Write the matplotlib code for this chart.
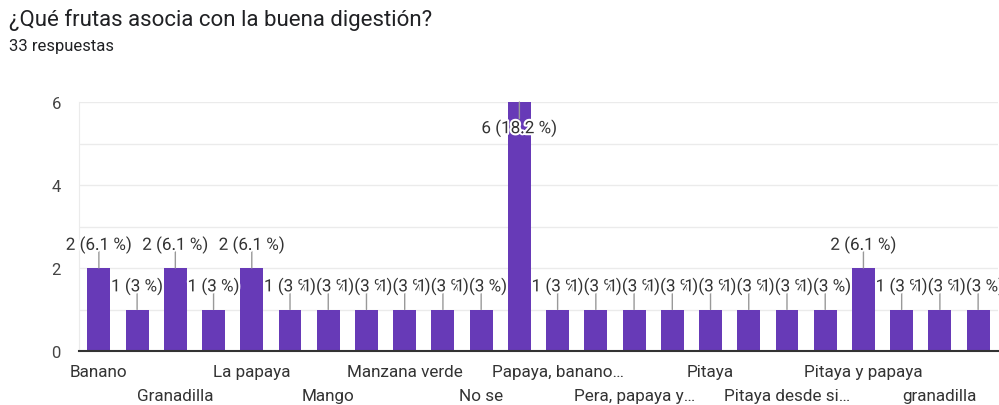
import matplotlib
matplotlib.use("Agg")
import matplotlib.pyplot as plt
import matplotlib.patheffects as pe
import matplotlib.transforms as mtransforms

# respuestas (orden alfabético como en el formulario); las impares no se ven en el eje
categories = [
    "Banano", "Banano y papaya", "Granadilla", "Guayaba", "La papaya", "Limón",
    "Mango", "Manzana", "Manzana verde", "Naranja", "No se", "Papaya",
    "Papaya, banano…", "Papaya, piña…", "Pera, papaya y…", "Piña", "Pitaya",
    "Pitaya amarilla", "Pitaya desde si…", "Pitaya roja", "Pitaya y papaya",
    "Uvas", "granadilla", "papaya",
]
counts = [2, 1, 2, 1, 2, 1, 1, 1, 1, 1, 1, 6, 1, 1, 1, 1, 1, 1, 1, 1, 2, 1, 1, 1]
total = 33
title = "¿Qué frutas asocia con la buena digestión?"
subtitle = "33 respuestas"

plt.rcParams["font.family"] = ["Roboto", "DejaVu Sans"]

fig = plt.figure(figsize=(9.99, 4.06), dpi=100)
ax = fig.add_axes([79 / 999, 1 - 352 / 406, 919 / 999, 249 / 406])

x = list(range(len(counts)))
ax.bar(x, counts, width=0.6, color="#673ab7", zorder=2)

ax.set_xlim(-0.52, len(counts) - 0.48)
ax.set_ylim(0, 6)
ax.set_yticks([0, 2, 4, 6])
ax.set_yticks([1, 3, 5], minor=True)
ax.grid(axis="y", which="both", color="#ebebeb", linewidth=1, zorder=0)
ax.tick_params(axis="y", which="both", length=0, pad=13, labelsize=12, labelcolor="#444444")
ax.set_xticks([])
for s in ["top", "right"]:
    ax.spines[s].set_visible(False)
ax.spines["left"].set_color("#ebebeb")
ax.spines["bottom"].set_color("#333333")
ax.spines["bottom"].set_linewidth(1.5)
ax.spines["bottom"].set_zorder(3)

# etiquetas del eje x en dos filas alternadas
trans = mtransforms.blended_transform_factory(ax.transData, ax.transAxes)
for i in range(0, len(categories), 2):
    row = (i // 2) % 2
    off = -15 if row == 0 else -32
    ax.annotate(categories[i], xy=(i, 0), xycoords=trans, xytext=(0, off),
                textcoords="offset points", ha="center", va="center",
                fontsize=12.3, color="#333333")

# etiquetas de datos con línea guía
halo = [pe.withStroke(linewidth=3, foreground="white")]
ymax = max(counts)
for i, v in enumerate(counts):
    pct = 100 * v / total
    pct_s = f"{pct:.1f}".rstrip("0").rstrip(".")
    label = f"{v} ({pct_s} %)"
    if v == ymax:
        ax.annotate("", xy=(i, v), xytext=(0, -12), textcoords="offset points",
                    arrowprops=dict(arrowstyle="-", color="#999999", lw=1,
                                    shrinkA=0, shrinkB=0), zorder=4)
        ax.annotate(label, xy=(i, v), xytext=(0, -19), textcoords="offset points",
                    ha="center", va="center", fontsize=12.3, color="#333333",
                    path_effects=halo, zorder=5)
    else:
        ax.annotate("", xy=(i, v), xytext=(0, 12), textcoords="offset points",
                    arrowprops=dict(arrowstyle="-", color="#999999", lw=1,
                                    shrinkA=0, shrinkB=0), zorder=4)
        ax.annotate(label, xy=(i, v), xytext=(0, 16.5), textcoords="offset points",
                    ha="center", va="center", fontsize=12.3, color="#333333",
                    path_effects=halo, zorder=5)

fig.text(9 / 999, 1 - 20 / 406, title, ha="left", va="center", fontsize=16, color="#202124")
fig.text(9 / 999, 1 - 47 / 406, subtitle, ha="left", va="center", fontsize=12, color="#202124")

fig.savefig("out.png", dpi=100)
